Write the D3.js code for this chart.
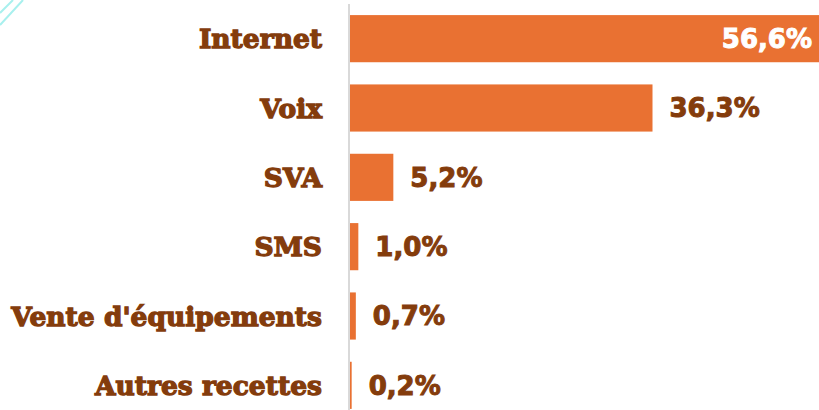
<!DOCTYPE html>
<html>
<head>
<meta charset="utf-8">
<script src="https://cdn.jsdelivr.net/npm/d3@7"></script>
<style>
  body { margin: 0; background: #fff; }
  svg { display: block; }
</style>
</head>
<body>
<div id="chart"></div>
<script>
// categories and their share of revenue (%)
const categories = ["Internet", "Voix", "SVA", "SMS", "Vente d'équipements", "Autres recettes"];
const values = [56.6, 36.3, 5.2, 1.0, 0.7, 0.2];
const valueLabels = ["56,6%", "36,3%", "5,2%", "1,0%", "0,7%", "0,2%"];

const width = 819, height = 410;
const svg = d3.select("#chart").append("svg")
    .attr("width", width)
    .attr("height", height);

// decorative corner lines
svg.append("g")
    .attr("stroke", "#a8f0ee")
    .attr("stroke-width", 2)
    .selectAll("line")
    .data([[0, 13, 13, 0], [0, 25, 23, 0]])
    .enter().append("line")
    .attr("x1", d => d[0]).attr("y1", d => d[1])
    .attr("x2", d => d[2]).attr("y2", d => d[3]);

const x = d3.scaleLinear()
    .domain([0, 60])
    .range([350, 850]);

const y = d3.scaleBand()
    .domain(categories)
    .range([4, 420])
    .paddingInner(0.32)
    .paddingOuter(0.16);

const data = categories.map((c, i) => ({ cat: c, value: values[i], label: valueLabels[i] }));

// bars
svg.selectAll(".bar")
    .data(data)
    .enter().append("rect")
    .attr("class", "bar")
    .attr("x", x(0))
    .attr("y", d => y(d.cat))
    .attr("width", d => x(d.value) - x(0))
    .attr("height", y.bandwidth())
    .attr("fill", "#e97132");

// axis line
svg.append("line")
    .attr("x1", x(0) - 1).attr("x2", x(0) - 1)
    .attr("y1", 4).attr("y2", height)
    .attr("stroke", "#d9d9d9")
    .attr("stroke-width", 2);

// category labels
svg.selectAll(".cat")
    .data(data)
    .enter().append("text")
    .attr("class", "cat")
    .attr("x", 322)
    .attr("y", d => y(d.cat) + y.bandwidth() / 2)
    .attr("dy", "0.36em")
    .attr("text-anchor", "end")
    .style("font-family", "'DejaVu Serif', serif")
    .style("font-weight", "bold")
    .style("font-size", "26.5px")
    .attr("fill", "#843c0c")
    .attr("stroke", "#843c0c")
    .attr("stroke-width", 1.3)
    .text(d => d.cat);

// value labels
svg.selectAll(".val")
    .data(data)
    .enter().append("text")
    .attr("class", "val")
    .attr("x", (d, i) => i === 0 ? 812 : x(d.value) + 17)
    .attr("y", d => y(d.cat) + y.bandwidth() / 2)
    .attr("dy", "0.36em")
    .attr("text-anchor", (d, i) => i === 0 ? "end" : "start")
    .style("font-family", "'DejaVu Sans', sans-serif")
    .style("font-weight", "bold")
    .style("font-size", "26px")
    .attr("fill", (d, i) => i === 0 ? "#ffffff" : "#843c0c")
    .attr("stroke", (d, i) => i === 0 ? "#ffffff" : "#843c0c")
    .attr("stroke-width", 1)
    .text(d => d.label);
</script>
</body>
</html>
